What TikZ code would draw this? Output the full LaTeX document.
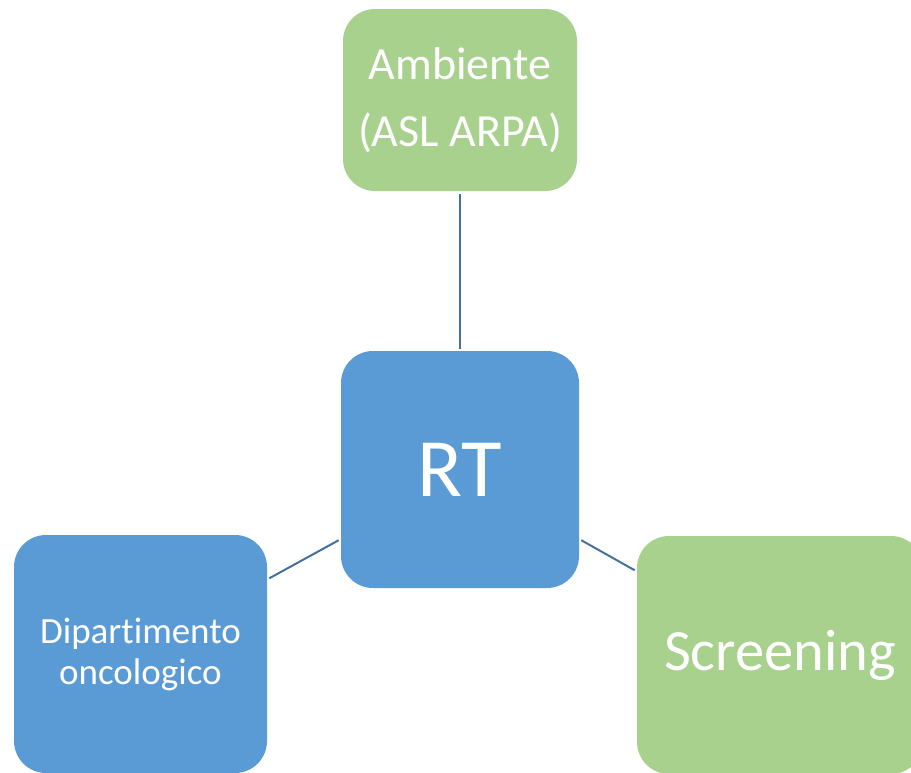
\documentclass[tikz,border=0pt]{standalone}
\usepackage{fontspec}
\setmainfont[Ligatures = NoCommon]{Carlito}
\definecolor{boxgreen}{HTML}{A9D18E}
\definecolor{boxblue}{HTML}{5B9BD5}
\definecolor{linkblue}{HTML}{41719C}

\begin{document}
\begin{tikzpicture}[x = 1pt, y = -1pt, line width = 2pt,
    box/.style = {rectangle, rounded corners = 32pt, text = white, align = center, inner sep = 0pt},
    link/.style = {draw = linkblue, line width = 2pt, shorten <= 1.5pt, shorten >= 1.5pt}]
\useasboundingbox (0,0) rectangle (911,772);
\clip (0,0) rectangle (911,772);
\draw (460,100) node[box, fill = boxgreen, minimum width = 234pt, minimum height = 182pt, font = \fontsize{46}{67}\selectfont](amb){Ambiente\\(ASL ARPA)}
    (460,469.5) node[box, fill = boxblue, minimum width = 238pt, minimum height = 237pt, font = \fontsize{83}{90}\selectfont](rt){RT}
    (140.5,654) node[box, fill = boxblue, minimum width = 253pt, minimum height = 238pt, font = \fontsize{37}{41}\selectfont](dip){Dipartimento\\oncologico}
    (780,655) node[box, fill = boxgreen, minimum width = 286pt, minimum height = 238pt, font = \fontsize{58.5}{62}\selectfont](scr){Screening};
    \draw [link] (amb.south) -- (rt.north);
    \draw [link] ([yshift = 75pt]dip.east) -- ([yshift = -70pt]rt.west);
    \draw [link] ([yshift = -70pt]rt.east) -- ([yshift = 84pt]scr.west);
\end{tikzpicture}
\end{document}
